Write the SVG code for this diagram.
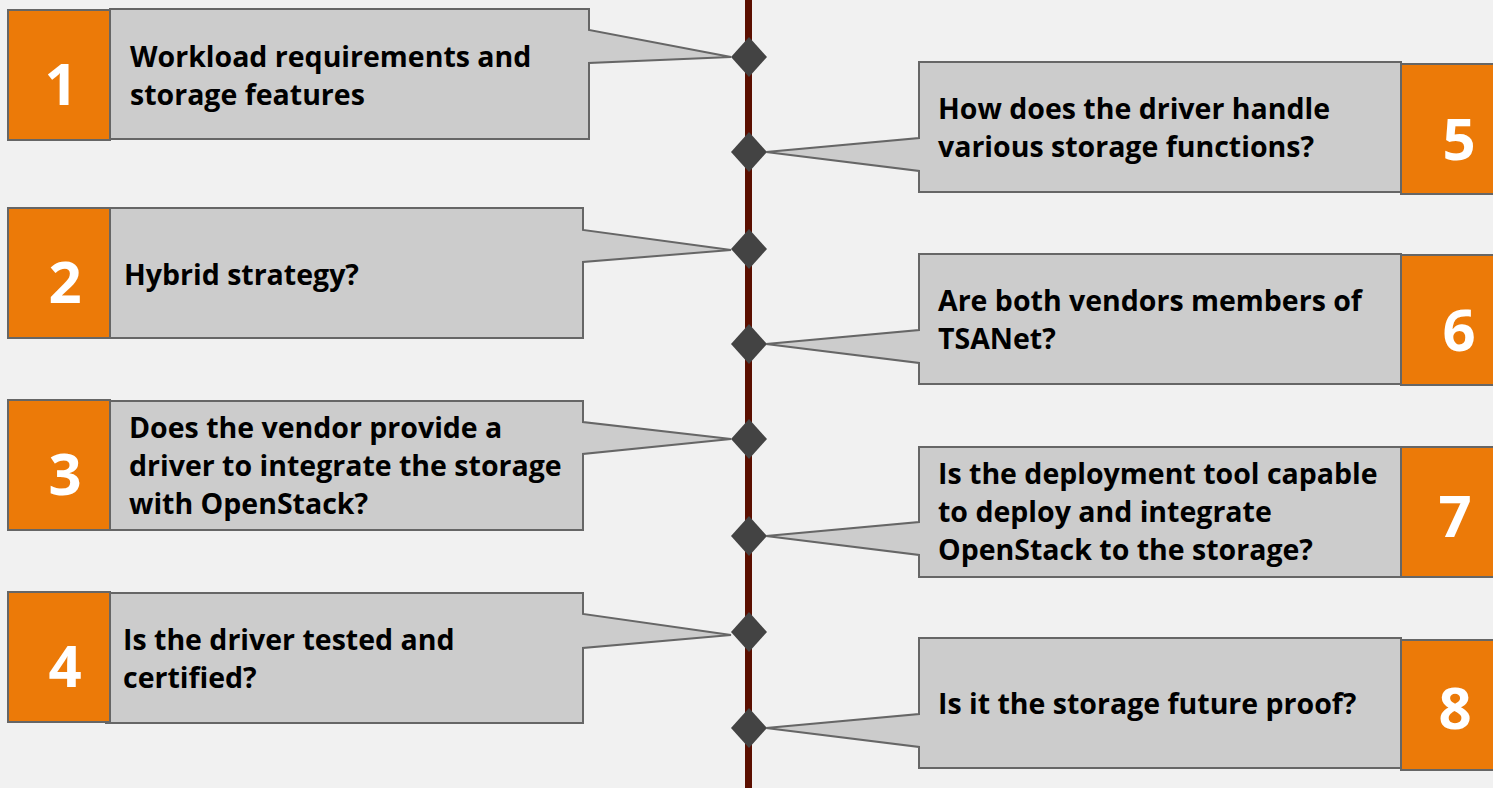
<svg xmlns="http://www.w3.org/2000/svg" width="1493" height="788" viewBox="0 0 1493 788">
<style>
.co{fill:#cccccc;stroke:#666666;stroke-width:2;stroke-linejoin:miter}
.num{fill:#ec7a08;stroke:#666666;stroke-width:2}
.nt{font-family:"Open Sans","Liberation Sans",sans-serif;font-weight:700;font-size:58px;fill:#ffffff;text-anchor:middle}
.t{font-family:"Open Sans","Liberation Sans",sans-serif;font-weight:700;font-size:28.5px;fill:#000000}
.dm{fill:#434343}
</style>
<rect width="1493" height="788" fill="#f1f1f1"/>
<g id="timeline">
<rect x="745" y="0" width="7" height="788" fill="#5b0f00"/>
</g>
<g id="connectors">
<path class="dm" d="M749,37 L767,57 L749,77 L731,57 Z"/>
<path class="dm" d="M749,132 L767,152 L749,172 L731,152 Z"/>
<path class="dm" d="M749,229 L767,249 L749,269 L731,249 Z"/>
<path class="dm" d="M749,324 L767,344 L749,364 L731,344 Z"/>
<path class="dm" d="M749,419 L767,439 L749,459 L731,439 Z"/>
<path class="dm" d="M749,516 L767,536 L749,556 L731,536 Z"/>
<path class="dm" d="M749,612 L767,632 L749,652 L731,632 Z"/>
<path class="dm" d="M749,708 L767,728 L749,748 L731,728 Z"/>
</g>
<g id="node1">
<path class="co" d="M110,9 H589 V30 L731,57 L589,63 V139 H110 Z"/>
<rect class="num" x="8" y="10" width="102" height="130"/>
<text class="nt" x="61" y="105">1</text>
<text class="t" x="130" y="67">Workload requirements and</text>
<text class="t" x="130" y="105">storage features</text>
</g>
<g id="node2">
<path class="co" d="M110,208 H583 V230 L731,250 L583,262 V338 H110 Z"/>
<rect class="num" x="8" y="208" width="102" height="130"/>
<text class="nt" x="65" y="303">2</text>
<text class="t" x="124" y="285">Hybrid strategy?</text>
</g>
<g id="node3">
<path class="co" d="M110,401 H583 V422 L731,439 L583,454 V530 H110 Z"/>
<rect class="num" x="8" y="400" width="102" height="130"/>
<text class="nt" x="65" y="495">3</text>
<text class="t" x="129" y="438">Does the vendor provide a</text>
<text class="t" x="129" y="476">driver to integrate the storage</text>
<text class="t" x="129" y="514">with OpenStack?</text>
</g>
<g id="node4">
<path class="co" d="M106,593 H583 V614 L731,635 L583,648 V723 H106 Z"/>
<rect class="num" x="8" y="592" width="102" height="130"/>
<text class="nt" x="65" y="687">4</text>
<text class="t" x="123" y="650">Is the driver tested and</text>
<text class="t" x="123" y="688">certified?</text>
</g>
<g id="node5">
<path class="co" d="M919,62 H1401 V192 H919 V171 L766,152 L919,138 Z"/>
<rect class="num" x="1401" y="64" width="100" height="130"/>
<text class="nt" x="1459" y="160">5</text>
<text class="t" x="938" y="119">How does the driver handle</text>
<text class="t" x="938" y="157">various storage functions?</text>
</g>
<g id="node6">
<path class="co" d="M919,254 H1401 V384 H919 V363 L766,344 L919,330 Z"/>
<rect class="num" x="1401" y="255" width="100" height="130"/>
<text class="nt" x="1459" y="351">6</text>
<text class="t" x="938" y="311">Are both vendors members of</text>
<text class="t" x="938" y="349">TSANet?</text>
</g>
<g id="node7">
<path class="co" d="M919,447 H1401 V577 H919 V555 L766,536 L919,522 Z"/>
<rect class="num" x="1401" y="447" width="100" height="130"/>
<text class="nt" x="1455" y="537">7</text>
<text class="t" x="938" y="484">Is the deployment tool capable</text>
<text class="t" x="938" y="522">to deploy and integrate</text>
<text class="t" x="938" y="560">OpenStack to the storage?</text>
</g>
<g id="node8">
<path class="co" d="M919,638 H1401 V768 H919 V747 L766,728 L919,714 Z"/>
<rect class="num" x="1401" y="640" width="100" height="130"/>
<text class="nt" x="1455" y="729">8</text>
<text class="t" x="938" y="714">Is it the storage future proof?</text>
</g>
</svg>
